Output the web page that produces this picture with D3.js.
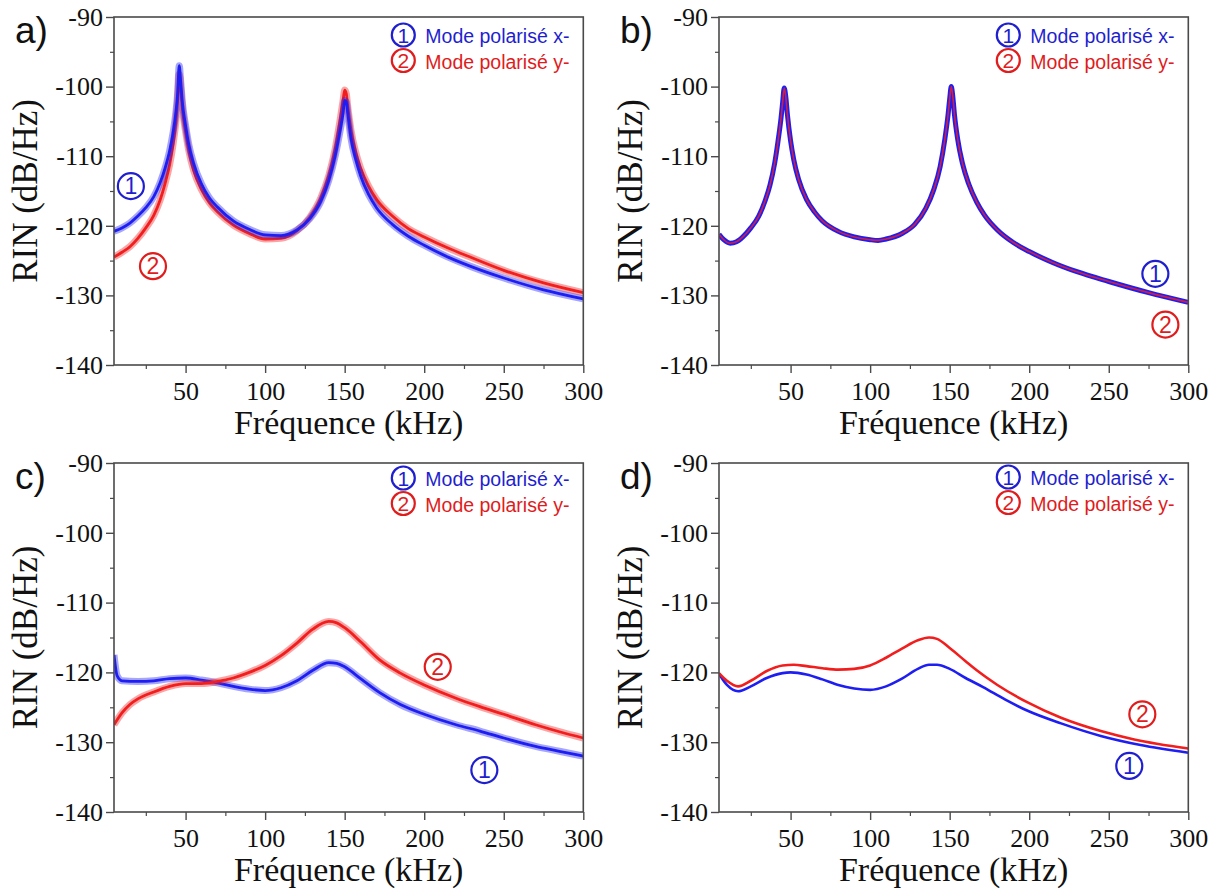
<!DOCTYPE html>
<html>
<head>
<meta charset="utf-8">
<script src="https://cdn.jsdelivr.net/npm/d3@7"></script>
<style>
  html,body{margin:0;padding:0;background:#fff;}
  svg{display:block;}
</style>
</head>
<body>
<svg id="chart" width="1220" height="892"></svg>
<script>
// ---------------- DATA ----------------
const xTicks = [50, 100, 150, 200, 250, 300];
const xMinorTicks = [25, 75, 125, 175, 225, 275];
const yTicks = [-90, -100, -110, -120, -130, -140];
const yMinorTicks = [-95, -105, -115, -125, -135];
const xDomain = [5, 300];
const yDomain = [-140, -90];

const legendLabels = ["Mode polarisé x-", "Mode polarisé y-"];
const seriesNumbers = ["1", "2"];
const panelLetters = ["a)", "b)", "c)", "d)"];
const xTitle = "Fréquence (kHz)";
const yTitle = "RIN (dB/Hz)";

// panel a : measured (frequency kHz, RIN dB/Hz)
const aModeX = [[5,-120.8],[10,-120.3],[15,-119.6],[20,-118.6],[25,-117.4],[30,-115.8],[34,-113.8],[37,-111.8],[40,-109.2],[42,-106.8],[44,-103.5],[45,-101],[46,-97],[47,-99.5],[48,-102.3],[50,-105.6],[52,-108.3],[55,-111],[60,-114],[65,-116],[70,-117.3],[80,-119.3],[90,-120.5],[100,-121.3],[110,-121.4],[120,-120.6],[128,-119],[135,-116.5],[140,-113.5],[144,-110],[147,-106.5],[149,-103.8],[150,-102],[151,-102.2],[152,-104],[154,-107.5],[157,-110.5],[160,-112.8],[165,-115.5],[170,-117.4],[180,-119.8],[190,-121.5],[200,-122.8],[215,-124.5],[230,-125.9],[250,-127.5],[275,-129.2],[300,-130.5]];
const aModeY = [[5,-124.5],[10,-123.8],[15,-123],[20,-121.8],[25,-120.3],[30,-118.5],[34,-116.3],[37,-114],[40,-111.2],[42,-108.5],[44,-104.8],[45,-102],[46,-98.2],[47,-100.5],[48,-103.2],[50,-106.5],[52,-109.2],[55,-112],[60,-114.8],[65,-116.7],[70,-118],[80,-119.9],[90,-121.1],[100,-121.9],[110,-121.8],[120,-120.7],[128,-118.8],[135,-116],[140,-112.8],[144,-109],[147,-105],[149,-102],[150,-100.5],[151,-101],[152,-103],[154,-106.3],[157,-109.5],[160,-111.7],[165,-114.3],[170,-116.2],[180,-118.6],[190,-120.4],[200,-121.6],[215,-123.2],[230,-124.6],[250,-126.4],[275,-128.2],[300,-129.6]];

// panel b : model (both modes identical)
const bModeX = [[5,-121.2],[8,-122],[12,-122.5],[16,-122.3],[20,-121.6],[25,-120.3],[30,-118.6],[34,-116.4],[37,-114.2],[40,-111],[42,-108],[44,-104.5],[45,-102.3],[46,-100.2],[47,-101.5],[48,-104],[50,-107.8],[52,-110.5],[55,-113.3],[60,-116.2],[65,-118],[70,-119.3],[80,-120.8],[90,-121.6],[100,-122],[105,-122.1],[110,-121.9],[120,-121.1],[128,-119.8],[135,-117.5],[140,-114.8],[144,-111.5],[147,-107.5],[149,-104],[150,-101.8],[151,-100],[152,-101.5],[153,-104],[155,-107.5],[158,-111],[162,-114],[167,-116.6],[172,-118.5],[180,-120.6],[190,-122.4],[200,-123.7],[215,-125.3],[230,-126.6],[250,-128],[275,-129.6],[300,-131]];
const bModeY = bModeX.map(d => [d[0], d[1]]);

// panel c : measured
const cModeX = [[5,-117.5],[7,-120.5],[10,-121.2],[20,-121.3],[30,-121.2],[40,-120.9],[50,-120.8],[60,-121.1],[70,-121.5],[80,-122],[90,-122.4],[100,-122.6],[110,-122.2],[120,-121.2],[130,-119.7],[140,-118.6],[145,-118.7],[150,-119.2],[160,-120.9],[172,-122.9],[185,-124.6],[200,-126],[220,-127.5],[235,-128.4],[250,-129.4],[270,-130.6],[285,-131.3],[300,-132]];
const cModeY = [[5,-127.5],[10,-125.8],[15,-124.6],[20,-123.8],[30,-122.8],[40,-122],[50,-121.6],[60,-121.6],[70,-121.3],[80,-120.8],[90,-120],[100,-119],[110,-117.6],[120,-115.8],[130,-113.8],[140,-112.7],[145,-112.9],[150,-113.6],[160,-115.6],[172,-118.2],[185,-120.1],[200,-121.8],[220,-123.7],[235,-124.9],[250,-126],[270,-127.5],[285,-128.5],[300,-129.4]];

// panel d : model
const dModeX = [[5,-120.2],[10,-121.8],[17,-122.7],[25,-122],[35,-120.8],[45,-120.1],[50,-120],[60,-120.3],[70,-121],[80,-121.8],[90,-122.3],[100,-122.5],[110,-122],[120,-120.9],[130,-119.5],[137,-118.9],[142,-118.9],[150,-119.5],[160,-120.8],[171,-122.1],[185,-123.9],[199,-125.5],[220,-127.3],[245,-129.1],[270,-130.4],[300,-131.5]];
const dModeY = [[5,-120.1],[10,-121.2],[17,-122],[25,-121.2],[35,-119.8],[45,-119],[52,-118.9],[60,-119.1],[70,-119.4],[80,-119.6],[90,-119.5],[100,-119],[110,-117.9],[120,-116.6],[130,-115.4],[137,-115],[142,-115.2],[150,-116.5],[160,-118.4],[167,-119.7],[180,-121.8],[199,-124.3],[220,-126.5],[245,-128.4],[266,-129.6],[300,-130.9]];

// in-plot curve markers (frequency, RIN) for series 1 and 2
const aMarks = [[15.6,-114.3],[29.5,-125.8]];
const bMarks = [[279.3,-126.9],[285.6,-134.2]];
const cMarks = [[237.8,-134],[208.5,-119.2]];
const dMarks = [[262.9,-133.4],[271.1,-126]];

// ---------------- LAYOUT / STYLE ----------------
const BLUE = "#1e1ef2", RED = "#f21e1e";
const TBLUE = "#1f1fd0", TRED = "#e01c1c";
const serif = "'Liberation Serif','Times New Roman',serif";
const sans = "'Liberation Sans',Arial,sans-serif";

const panels = [
  {letter: panelLetters[0], left:114, right:583.3, top:17,  bottom:365, x:aModeX, y:aModeY, marks:aMarks, kind:"noisy", legDy:26},
  {letter: panelLetters[1], left:719, right:1188.3, top:17, bottom:365, x:bModeX, y:bModeY, marks:bMarks, kind:"overlay", legDy:26},
  {letter: panelLetters[2], left:114, right:583.3, top:463, bottom:812, x:cModeX, y:cModeY, marks:cMarks, kind:"noisy", legDy:23},
  {letter: panelLetters[3], left:719, right:1188.3, top:463, bottom:812, x:dModeX, y:dModeY, marks:dMarks, kind:"smooth", legDy:22}
];

const svg = d3.select("#chart");
const fmt = v => String(v);

function styleTicks(sel) {
  sel.attr("font-family", serif).attr("font-size", 26);
  sel.selectAll("text")
    .style("font-family", serif).style("font-size", "26px").style("fill", "#111");
}

panels.forEach((p, i) => {
  const g = svg.append("g");
  const xs = d3.scaleLinear().domain(xDomain).range([p.left, p.right]);
  const ys = d3.scaleLinear().domain(yDomain).range([p.bottom, p.top]);

  const clipId = "clip" + i;
  svg.append("clipPath").attr("id", clipId).append("rect")
    .attr("x", p.left).attr("y", p.top).attr("width", p.right - p.left).attr("height", p.bottom - p.top);

  // lines
  const line = d3.line().x(d => xs(d[0])).y(d => ys(d[1])).curve(d3.curveMonotoneX);
  const lg = g.append("g").attr("clip-path", `url(#${clipId})`);
  if (p.kind === "noisy") {
    const order = i === 0 ? [[p.y, RED], [p.x, BLUE]] : [[p.x, BLUE], [p.y, RED]];
    order.forEach(([data, col]) => {
      lg.append("path").attr("d", line(data)).attr("fill", "none")
        .attr("stroke", col).attr("stroke-width", 7).attr("stroke-opacity", 0.4)
        .attr("stroke-linejoin", "round");
      lg.append("path").attr("d", line(data)).attr("fill", "none")
        .attr("stroke", col).attr("stroke-width", 2.8).attr("stroke-linejoin", "round");
    });
  } else if (p.kind === "overlay") {
    lg.append("path").attr("d", line(p.x)).attr("fill", "none")
      .attr("stroke", BLUE).attr("stroke-width", 5);
    lg.append("path").attr("d", line(p.y)).attr("fill", "none")
      .attr("stroke", RED).attr("stroke-width", 1.6).attr("stroke-opacity", 0.85);
  } else {
    lg.append("path").attr("d", line(p.x)).attr("fill", "none")
      .attr("stroke", BLUE).attr("stroke-width", 2.6);
    lg.append("path").attr("d", line(p.y)).attr("fill", "none")
      .attr("stroke", RED).attr("stroke-width", 2.6);
  }

  // frame
  g.append("rect").attr("x", p.left).attr("y", p.top)
    .attr("width", p.right - p.left).attr("height", p.bottom - p.top)
    .attr("fill", "none").attr("stroke", "#4a4a4a").attr("stroke-width", 1.6);

  // x axis
  const xAxis = d3.axisBottom(xs).tickValues(xTicks).tickSize(8).tickPadding(9).tickFormat(fmt);
  const xa = g.append("g").attr("transform", `translate(0,${p.bottom})`).call(xAxis);
  xa.select(".domain").remove();
  xa.selectAll("line").attr("stroke", "#4a4a4a").attr("stroke-width", 1.4);
  styleTicks(xa);
  const xm = d3.axisBottom(xs).tickValues(xMinorTicks).tickSize(4).tickFormat("");
  const xma = g.append("g").attr("transform", `translate(0,${p.bottom})`).call(xm);
  xma.select(".domain").remove();
  xma.selectAll("line").attr("stroke", "#4a4a4a").attr("stroke-width", 1.2);

  // y axis
  const yAxis = d3.axisLeft(ys).tickValues(yTicks).tickSize(8).tickPadding(3).tickFormat(fmt);
  const ya = g.append("g").attr("transform", `translate(${p.left},0)`).call(yAxis);
  ya.select(".domain").remove();
  ya.selectAll("line").attr("stroke", "#4a4a4a").attr("stroke-width", 1.4);
  styleTicks(ya);
  const ym = d3.axisLeft(ys).tickValues(yMinorTicks).tickSize(4).tickFormat("");
  const yma = g.append("g").attr("transform", `translate(${p.left},0)`).call(ym);
  yma.select(".domain").remove();
  yma.selectAll("line").attr("stroke", "#4a4a4a").attr("stroke-width", 1.2);

  // axis titles
  g.append("text").attr("x", (p.left + p.right) / 2).attr("y", p.bottom + 69)
    .attr("text-anchor", "middle").style("font-family", serif).style("font-size", "34px")
    .attr("fill", "#111").text(xTitle);
  g.append("text")
    .attr("transform", `translate(${p.left - 77},${(p.top + p.bottom) / 2}) rotate(-90)`)
    .attr("text-anchor", "middle").style("font-family", serif).style("font-size", "35px")
    .attr("fill", "#111").text(yTitle);

  // panel letter
  g.append("text").attr("x", p.left - 99).attr("y", p.top + 26)
    .style("font-family", sans).style("font-size", "37px").attr("fill", "#111").text(p.letter);

  // legend
  const colsC = [TBLUE, TRED];
  legendLabels.forEach((lab, k) => {
    const by = p.top + p.legDy + k * 25.5;
    const cx = p.right - 180, cy = by - 8;
    g.append("circle").attr("cx", cx).attr("cy", cy).attr("r", 11.5)
      .attr("fill", "none").attr("stroke", colsC[k]).attr("stroke-width", 2.2);
    g.append("text").attr("x", cx).attr("y", cy + 7.5).attr("text-anchor", "middle")
      .style("font-family", sans).style("font-size", "21px").attr("fill", colsC[k]).text(seriesNumbers[k]);
    g.append("text").attr("x", p.right - 158).attr("y", by)
      .style("font-family", sans).style("font-size", "19.5px").attr("fill", colsC[k]).text(lab);
  });

  // in-plot markers
  p.marks.forEach((m, k) => {
    const cx = xs(m[0]), cy = ys(m[1]);
    g.append("circle").attr("cx", cx).attr("cy", cy).attr("r", 13)
      .attr("fill", "none").attr("stroke", colsC[k]).attr("stroke-width", 2.2);
    g.append("text").attr("x", cx).attr("y", cy + 8).attr("text-anchor", "middle")
      .style("font-family", sans).style("font-size", "23px").attr("fill", colsC[k]).text(seriesNumbers[k]);
  });
});
</script>
</body>
</html>
